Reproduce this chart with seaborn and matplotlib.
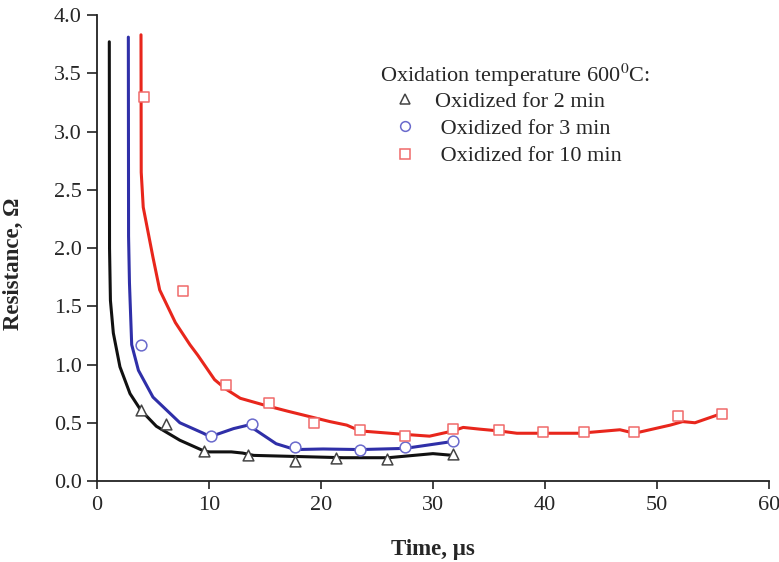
import matplotlib
matplotlib.use("Agg")
import matplotlib.pyplot as plt
import seaborn as sns
from matplotlib.lines import Line2D

sns.set_theme(style="ticks")
plt.rcParams['font.family'] = ['Liberation Serif', 'DejaVu Serif']
plt.rcParams['mathtext.fontset'] = 'stix'

# ---- measured points ----
t2_x = [3.9, 6.2, 9.55, 13.5, 17.7, 21.3, 25.9, 31.8]
t2_y = [0.61, 0.49, 0.26, 0.22, 0.175, 0.197, 0.19, 0.23]

t3_x = [3.9, 10.15, 13.8, 17.7, 23.5, 27.5, 31.8]
t3_y = [1.17, 0.39, 0.49, 0.29, 0.27, 0.29, 0.34]

t10_x = [4.2, 7.7, 11.5, 15.4, 19.4, 23.5, 27.5, 31.8, 35.9, 39.85, 43.5, 48.0, 51.9, 55.8]
t10_y = [3.30, 1.63, 0.82, 0.67, 0.50, 0.44, 0.39, 0.45, 0.44, 0.42, 0.42, 0.42, 0.56, 0.575]

# ---- fitted curves ----
f2_x = [1.1, 1.12, 1.2, 1.46, 2.05, 2.95, 3.9, 5.3, 7.4, 9.5, 10.0, 12.0, 13.0, 14.0, 18.0, 22.0, 26.0, 30.0, 31.8]
f2_y = [3.77, 2.0, 1.55, 1.27, 0.98, 0.75, 0.61, 0.47, 0.35, 0.26, 0.25, 0.25, 0.24, 0.22, 0.21, 0.20, 0.20, 0.235, 0.22]

f3_x = [2.8, 2.82, 2.9, 3.1, 3.7, 5.0, 7.4, 9.5, 10.1, 12.2, 13.5, 14.6, 16.0, 17.7, 20.2, 23.5, 27.5, 31.8]
f3_y = [3.81, 2.1, 1.7, 1.17, 0.95, 0.72, 0.50, 0.41, 0.38, 0.45, 0.48, 0.41, 0.32, 0.27, 0.275, 0.27, 0.28, 0.34]

f10_x = [3.93, 3.95, 4.13, 5.0, 5.6, 7.0, 8.3, 9.0, 10.5, 11.5, 12.8, 15.0, 17.0, 20.8, 22.3, 23.5, 27.5, 29.7, 31.8,
         32.7, 34.2, 35.9, 37.5, 39.85, 43.1, 46.7, 48.0, 51.2, 52.3, 53.4, 55.8]
f10_y = [3.83, 2.65, 2.35, 1.92, 1.64, 1.36, 1.17, 1.08, 0.87, 0.79, 0.71, 0.65, 0.60, 0.51, 0.48, 0.43, 0.40, 0.385, 0.43,
         0.46, 0.445, 0.43, 0.41, 0.41, 0.41, 0.44, 0.41, 0.48, 0.51, 0.50, 0.58]

legend_title = "Oxidation temperature 600$^{0}$C:"
labels = ["Oxidized for 2 min", " Oxidized for 3 min", " Oxidized for 10 min"]
line_colors = ["#111111", "#2f2fa8", "#e8261c"]
marker_edges = ["#444444", "#6a6acc", "#f06a6a"]
markers = ["^", "o", "s"]
y_ticks = [0.0, 0.5, 1.0, 1.5, 2.0, 2.5, 3.0, 3.5, 4.0]
x_ticks = [0, 10, 20, 30, 40, 50, 60]

fig = plt.figure(figsize=(7.79, 5.62), dpi=100)
ax = fig.add_axes([0.1245, 0.1441, 0.8625, 0.8292])

fits = [(f2_x, f2_y), (f3_x, f3_y), (f10_x, f10_y)]
pts = [(t2_x, t2_y), (t3_x, t3_y), (t10_x, t10_y)]

for (fx, fy), c in zip(fits, line_colors):
    sns.lineplot(x=fx, y=fy, sort=False, color=c, lw=2.2, ax=ax, estimator=None)

for (px, py), m, ec in zip(pts, markers, marker_edges):
    sns.scatterplot(x=px, y=py, marker=m, s=60, facecolor="white", edgecolor=ec,
                    linewidth=1.1, ax=ax, zorder=5)

ax.set_xlim(0, 60)
ax.set_ylim(0, 4.0)
ax.set_xticks(x_ticks)
ax.set_yticks(y_ticks)
ax.set_yticklabels([f"{v:.1f}" for v in y_ticks])
ax.tick_params(axis="both", labelsize=16, direction="out", width=1.2, color="#222222")
ax.tick_params(axis="y", length=7, pad=4)
ax.tick_params(axis="x", length=6, pad=5)
for sp in ["top", "right"]:
    ax.spines[sp].set_visible(False)
for sp in ["left", "bottom"]:
    ax.spines[sp].set_linewidth(1.3)
    ax.spines[sp].set_color("#222222")

ax.set_xlabel("Time, μs", fontsize=16.5, fontweight="bold")
ax.set_ylabel("Resistance, Ω", fontsize=16.5, fontweight="bold")
ax.xaxis.set_label_coords(0.5, -0.125)
ax.yaxis.set_label_coords(-0.109, 0.466)

ax.text(0.421, 0.871, legend_title, transform=ax.transAxes,
        fontsize=16, ha="left", va="center")
handles = [Line2D([], [], linestyle="none", marker=m, markersize=7, markerfacecolor="white",
                  markeredgecolor=ec, markeredgewidth=1.1)
           for m, ec in zip(markers, marker_edges)]
ax.legend(handles, labels, loc="upper left", bbox_to_anchor=(0.439, 0.836), frameon=False,
          fontsize=16, handletextpad=0.74, labelspacing=0.3, handlelength=1.2,
          borderpad=0.0, borderaxespad=0.0)

fig.savefig("out.png", dpi=100)
